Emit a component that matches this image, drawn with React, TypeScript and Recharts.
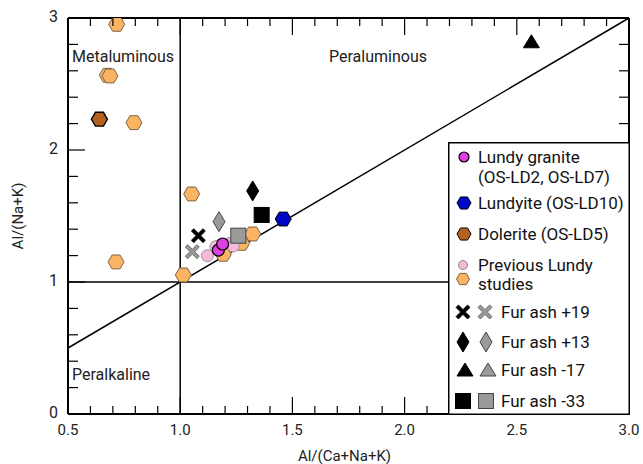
import React from "react";
import { ScatterChart, Scatter, XAxis, YAxis, ReferenceLine, Legend, Label } from "recharts";

document.body.style.margin = "0";

// Al/(Ca+Na+K) on x, Al/(Na+K) on y
const lundyGranite = [
  { x: 1.17, y: 1.242 },
  { x: 1.189, y: 1.288 },
];
const lundyite = [{ x: 1.459, y: 1.477 }];
const dolerite = [{ x: 0.64, y: 2.233 }];
const previousPink = [
  { x: 1.121, y: 1.199 },
  { x: 1.159, y: 1.268 },
  { x: 1.222, y: 1.293 },
  { x: 1.237, y: 1.273 },
];
const previousOrange = [
  { x: 0.717, y: 2.952 },
  { x: 0.675, y: 2.566 },
  { x: 0.687, y: 2.561 },
  { x: 0.794, y: 2.207 },
  { x: 0.714, y: 1.152 },
  { x: 1.051, y: 1.667 },
  { x: 1.014, y: 1.053 },
  { x: 1.192, y: 1.21 },
  { x: 1.274, y: 1.293 },
  { x: 1.323, y: 1.364 },
];
const ash19Black = [{ x: 1.081, y: 1.351 }];
const ash19Grey = [{ x: 1.054, y: 1.23 }];
const ash13Black = [{ x: 1.323, y: 1.69 }];
const ash13Grey = [{ x: 1.173, y: 1.457 }];
const ash17Black = [{ x: 2.565, y: 2.82 }];
const ash33Black = [{ x: 1.363, y: 1.508 }];
const ash33Grey = [{ x: 1.259, y: 1.351 }];

const xTicks = [0.5, 0.6, 0.7, 0.8, 0.9, 1.0, 1.1, 1.2, 1.3, 1.4, 1.5, 1.6, 1.7, 1.8, 1.9, 2.0, 2.1, 2.2, 2.3, 2.4, 2.5, 2.6, 2.7, 2.8, 2.9, 3.0];
const yTicks = [0, 0.2, 0.4, 0.6, 0.8, 1, 1.2, 1.4, 1.6, 1.8, 2, 2.2, 2.4, 2.6, 2.8, 3];
const divider = [
  { x: 0.5, y: 0.5 },
  { x: 3.0, y: 3.0 },
];

const W = 643;
const H = 464;
// axes take 1px each, so the plot spans x 68..629, y 18..414
const margin = { top: 18, right: 14, bottom: 49, left: 67 };
const plotW = 561;
const plotH = 396;
const FONT = "Roboto, 'DejaVu Sans', sans-serif";

const ORANGE = "#FBB461";
const ORANGE_EDGE = "#7d6245";
const PINK = "#F6B9DA";
const MAGENTA = "#DD3FE0";
const BLUE = "#0008C8";
const BROWN = "#B4611F";
const GREY = "#9a9a9a";

const isMajor = (v: number, step: number) => Math.abs(v / step - Math.round(v / step)) < 1e-6;

function hexPoints(cx: number, cy: number, r: number) {
  const pts: string[] = [];
  for (let i = 0; i < 6; i++) {
    const a = (Math.PI / 3) * i;
    pts.push(`${cx + r * Math.cos(a)},${cy + r * Math.sin(a)}`);
  }
  return pts.join(" ");
}

const Hex = ({ cx, cy, fill, stroke, r = 8, sw = 1 }: any) => (
  <polygon points={hexPoints(cx, cy, r)} fill={fill} stroke={stroke} strokeWidth={sw} />
);
const Dot = ({ cx, cy, fill, stroke, r = 6, sw = 1.2 }: any) => (
  <circle cx={cx} cy={cy} r={r} fill={fill} stroke={stroke} strokeWidth={sw} />
);
const Cross = ({ cx, cy, fill, stroke, s = 7 }: any) => {
  const t = 2.4;
  const d = `M${cx - s},${cy - s + t} L${cx - s + t},${cy - s} L${cx},${cy - t} L${cx + s - t},${cy - s} L${cx + s},${cy - s + t} L${cx + t},${cy} L${cx + s},${cy + s - t} L${cx + s - t},${cy + s} L${cx},${cy + t} L${cx - s + t},${cy + s} L${cx - s},${cy + s - t} L${cx - t},${cy} Z`;
  return <path d={d} fill={fill} stroke={stroke} strokeWidth={0.8} />;
};
const Diamond = ({ cx, cy, fill, stroke }: any) => (
  <polygon points={`${cx},${cy - 10} ${cx + 6},${cy} ${cx},${cy + 10} ${cx - 6},${cy}`} fill={fill} stroke={stroke} strokeWidth={1} />
);
const Tri = ({ cx, cy, fill, stroke }: any) => (
  <polygon points={`${cx},${cy - 7} ${cx + 8},${cy + 6} ${cx - 8},${cy + 6}`} fill={fill} stroke={stroke} strokeWidth={1} />
);
const Sq = ({ cx, cy, fill, stroke }: any) => (
  <rect x={cx - 7.5} y={cy - 7.5} width={15} height={15} fill={fill} stroke={stroke} strokeWidth={1} />
);

const XTick = (props: any) => {
  const { x, y, payload } = props;
  const v = payload.value;
  const major = isMajor(v, 0.5);
  const inner = v > 0.51 && v < 2.99;
  const len = major ? 17 : 8;
  return (
    <g>
      {inner && <line x1={x} x2={x} y1={y} y2={y - len} stroke="#000" strokeWidth={1.2} />}
      {inner && <line x1={x} x2={x} y1={y - plotH} y2={y - plotH + len} stroke="#000" strokeWidth={1.2} />}
      {major && (
        <text x={x} y={y + 21} textAnchor="middle" fontFamily={FONT} fontSize={15} fill="#222">
          {v.toFixed(1)}
        </text>
      )}
    </g>
  );
};

const YTick = (props: any) => {
  const { x, y, payload } = props;
  const v = payload.value;
  const major = isMajor(v, 1);
  const inner = v > 0.01 && v < 2.99;
  const len = major ? 17 : 10;
  return (
    <g>
      {inner && <line x1={x} x2={x + len} y1={y} y2={y} stroke="#000" strokeWidth={1.2} />}
      {inner && <line x1={x + plotW} x2={x + plotW - len} y1={y} y2={y} stroke="#000" strokeWidth={1.2} />}
      {major && (
        <text x={x - 10} y={y - 2} textAnchor="end" dominantBaseline="central" fontFamily={FONT} fontSize={16} fill="#222">
          {v}
        </text>
      )}
    </g>
  );
};

const LegendBox = () => {
  const t = { fontFamily: FONT, fontSize: 17, fill: "#111", dominantBaseline: "central" as const };
  return (
    <svg width={182} height={273} style={{ display: "block" }}>
      <rect x={0.75} y={0.75} width={180.5} height={271.5} fill="#fff" stroke="#000" strokeWidth={1.5} />
      <Dot cx={16} cy={15} r={5} fill={MAGENTA} stroke="#000" />
      <text x={30} y={15} {...t}>Lundy granite</text>
      <text x={30} y={35} {...t}>(OS-LD2, OS-LD7)</text>
      <Hex cx={16} cy={61} r={7} fill={BLUE} stroke="#000" />
      <text x={30} y={61} {...t}>Lundyite (OS-LD10)</text>
      <Hex cx={16} cy={92} r={7} fill={BROWN} stroke="#000" />
      <text x={30} y={92} {...t}>Dolerite (OS-LD5)</text>
      <Dot cx={15} cy={123} r={4.5} fill={PINK} stroke="#888" sw={1} />
      <Hex cx={15} cy={137} r={6.5} fill={ORANGE} stroke={ORANGE_EDGE} />
      <text x={30} y={123} {...t}>Previous Lundy</text>
      <text x={30} y={142} {...t}>studies</text>
      <Cross cx={15} cy={170} s={7} fill="#000" stroke="#000" />
      <Cross cx={37} cy={170} s={7} fill={GREY} stroke="#555" />
      <text x={53} y={170} {...t}>Fur ash +19</text>
      <Diamond cx={15} cy={200} fill="#000" stroke="#000" />
      <Diamond cx={38} cy={200} fill={GREY} stroke="#444" />
      <text x={53} y={200} {...t}>Fur ash +13</text>
      <Tri cx={17} cy={228} fill="#000" stroke="#000" />
      <Tri cx={40} cy={228} fill={GREY} stroke="#444" />
      <text x={53} y={228} {...t}>Fur ash -17</text>
      <Sq cx={15} cy={259} fill="#000" stroke="#000" />
      <Sq cx={38} cy={259} fill={GREY} stroke="#444" />
      <text x={53} y={259} {...t}>Fur ash -33</text>
    </svg>
  );
};

const label = { fontFamily: FONT, fontSize: 16, fill: "#222" };

export default function App() {
  return (
    <div style={{ width: W, height: H, background: "#fff" }}>
      <ScatterChart width={W} height={H} margin={margin}>
        <XAxis
          type="number"
          dataKey="x"
          domain={[0.5, 3]}
          ticks={xTicks}
          interval={0}
          allowDataOverflow
          height={1}
          tickSize={0}
          tickMargin={0}
          tickLine={false}
          tick={<XTick />}
          axisLine={{ stroke: "#000", strokeWidth: 2 }}
        >
          <Label
            content={(p: any) => {
              const vb = p.viewBox;
              return (
                <text x={vb.x + vb.width / 2 - 4} y={vb.y + 47} textAnchor="middle" fontFamily={FONT} fontSize={15} fill="#222">
                  Al/(Ca+Na+K)
                </text>
              );
            }}
          />
        </XAxis>
        <YAxis
          type="number"
          dataKey="y"
          domain={[0, 3]}
          ticks={yTicks}
          interval={0}
          allowDataOverflow
          width={1}
          tickSize={0}
          tickMargin={0}
          tickLine={false}
          tick={<YTick />}
          axisLine={{ stroke: "#000", strokeWidth: 2 }}
        >
          <Label
            content={(p: any) => {
              const vb = p.viewBox;
              const cx = vb.x - 49;
              const cy = vb.y + vb.height / 2;
              return (
                <text x={cx} y={cy} transform={`rotate(-90 ${cx} ${cy})`} textAnchor="middle" dominantBaseline="central" fontFamily={FONT} fontSize={15} fill="#222">
                  Al/(Na+K)
                </text>
              );
            }}
          />
        </YAxis>
        <ReferenceLine y={3} stroke="#000" strokeWidth={2} />
        <ReferenceLine x={3} stroke="#000" strokeWidth={2} />
        <ReferenceLine x={1} stroke="#000" strokeWidth={1.5} />
        <ReferenceLine y={1} stroke="#000" strokeWidth={1.5} />
        <ReferenceLine segment={divider} stroke="#000" strokeWidth={1.5} />

        <Scatter data={previousOrange} isAnimationActive={false} shape={(p: any) => <Hex cx={p.cx} cy={p.cy} fill={ORANGE} stroke={ORANGE_EDGE} />} />
        <Scatter data={previousPink} isAnimationActive={false} shape={(p: any) => <Dot cx={p.cx} cy={p.cy} fill={PINK} stroke="#999" sw={1} />} />
        <Scatter data={lundyGranite} isAnimationActive={false} shape={(p: any) => <Dot cx={p.cx} cy={p.cy} fill={MAGENTA} stroke="#000" />} />
        <Scatter data={lundyite} isAnimationActive={false} shape={(p: any) => <Hex cx={p.cx} cy={p.cy} fill={BLUE} stroke="#000" />} />
        <Scatter data={dolerite} isAnimationActive={false} shape={(p: any) => <Hex cx={p.cx} cy={p.cy} fill={BROWN} stroke="#000" sw={1.4} />} />
        <Scatter data={ash19Grey} isAnimationActive={false} shape={(p: any) => <Cross cx={p.cx} cy={p.cy} fill={GREY} stroke="#555" />} />
        <Scatter data={ash19Black} isAnimationActive={false} shape={(p: any) => <Cross cx={p.cx} cy={p.cy} fill="#000" stroke="#000" />} />
        <Scatter data={ash13Grey} isAnimationActive={false} shape={(p: any) => <Diamond cx={p.cx} cy={p.cy} fill={GREY} stroke="#444" />} />
        <Scatter data={ash13Black} isAnimationActive={false} shape={(p: any) => <Diamond cx={p.cx} cy={p.cy} fill="#000" stroke="#000" />} />
        <Scatter data={ash17Black} isAnimationActive={false} shape={(p: any) => <Tri cx={p.cx} cy={p.cy} fill="#000" stroke="#000" />} />
        <Scatter data={ash33Grey} isAnimationActive={false} shape={(p: any) => <Sq cx={p.cx} cy={p.cy} fill={GREY} stroke="#444" />} />
        <Scatter data={ash33Black} isAnimationActive={false} shape={(p: any) => <Sq cx={p.cx} cy={p.cy} fill="#000" stroke="#000" />} />

        <text x={72} y={62} {...label}>Metaluminous</text>
        <text x={329} y={62} {...label}>Peraluminous</text>
        <text x={72} y={380} {...label}>Peralkaline</text>

        <Legend
          layout="vertical"
          align="center"
          verticalAlign="middle"
          content={() => <LegendBox />}
          wrapperStyle={{ left: 448, top: 142, width: 182, height: 273 }}
        />
      </ScatterChart>
    </div>
  );
}
